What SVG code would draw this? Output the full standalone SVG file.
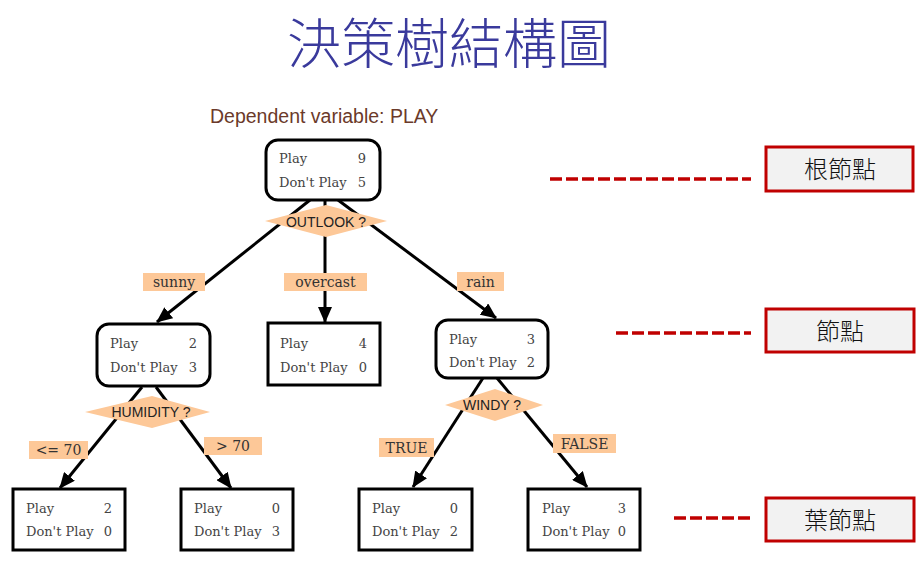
<svg xmlns="http://www.w3.org/2000/svg" width="921" height="564" viewBox="0 0 921 564">
<style>
.title{font-family:"Noto Sans CJK TC","Noto Sans CJK SC",sans-serif;font-size:54px;font-weight:300;fill:#3a3a9c;text-anchor:middle}
.dep{font-family:"Liberation Sans",Arial,sans-serif;font-size:19.5px;fill:#6b3a2a}
.nt{font-family:"DejaVu Serif",serif;font-size:13px;fill:#444}
.num{text-anchor:end}
.node{fill:#fff;stroke:#000;stroke-width:3}
.dia{fill:#fdc898}
.dt{font-family:"Liberation Sans",Arial,sans-serif;font-size:14px;fill:#222;text-anchor:middle}
.lb{fill:#fdc898}
.lt{font-family:"DejaVu Serif",serif;font-size:14px;fill:#333;text-anchor:middle}
.edge{stroke:#000;stroke-width:3;fill:none}
.dash{stroke:#c00000;stroke-width:3.5;stroke-dasharray:12 4;fill:none}
.leg{fill:#f2f2f2;stroke:#c00000;stroke-width:3}
.legt{font-family:"Noto Sans CJK TC","Noto Sans CJK SC",sans-serif;font-size:24px;font-weight:300;fill:#111;text-anchor:middle}
</style>
<defs>
<marker id="arr" markerUnits="userSpaceOnUse" markerWidth="16" markerHeight="14" refX="15" refY="7" orient="auto">
<path d="M0,0 L16,7 L0,14 Z" fill="#000"/>
</marker>
</defs>
<text class="title" x="449" y="64">決策樹結構圖</text>
<text class="dep" x="210" y="123">Dependent variable: PLAY</text>

<g id="connectors">
<line class="edge" x1="310" y1="200" x2="157" y2="322" marker-end="url(#arr)"/>
<line class="edge" x1="325" y1="200" x2="325" y2="322" marker-end="url(#arr)"/>
<line class="edge" x1="338" y1="200" x2="496" y2="318" marker-end="url(#arr)"/>
<line class="edge" x1="142" y1="387" x2="60" y2="488" marker-end="url(#arr)"/>
<line class="edge" x1="156" y1="387" x2="231" y2="488" marker-end="url(#arr)"/>
<line class="edge" x1="483" y1="378" x2="413" y2="487" marker-end="url(#arr)"/>
<line class="edge" x1="497" y1="378" x2="587" y2="487" marker-end="url(#arr)"/>
</g>

<g id="root">
<rect class="node" x="266" y="140" width="114" height="60" rx="12"/>
<text class="nt" x="279" y="163">Play</text><text class="nt num" x="366" y="163">9</text>
<text class="nt" x="279" y="187">Don't Play</text><text class="nt num" x="366" y="187">5</text>
</g>
<g id="outlook">
<polygon class="dia" points="265,221 326,205 387,221 326,237"/>
<text class="dt" x="326" y="227">OUTLOOK ?</text>
</g>

<g id="label-sunny"><rect class="lb" x="143" y="273" width="62" height="18"/><text class="lt" x="174" y="287">sunny</text></g>
<g id="label-overcast"><rect class="lb" x="284" y="273" width="83" height="18"/><text class="lt" x="325.5" y="287">overcast</text></g>
<g id="label-rain"><rect class="lb" x="457" y="272" width="47" height="19"/><text class="lt" x="480.5" y="287">rain</text></g>

<g id="sunny">
<rect class="node" x="97" y="324" width="113" height="62" rx="12"/>
<text class="nt" x="110" y="348">Play</text><text class="nt num" x="197" y="348">2</text>
<text class="nt" x="110" y="372">Don't Play</text><text class="nt num" x="197" y="372">3</text>
</g>
<g id="humidity">
<polygon class="dia" points="85,412 152,396 210,412 152,428"/>
<text class="dt" x="151" y="417">HUMIDITY ?</text>
</g>

<g id="overcast">
<rect class="node" x="268" y="323" width="112" height="62"/>
<text class="nt" x="280" y="348">Play</text><text class="nt num" x="367" y="348">4</text>
<text class="nt" x="280" y="372">Don't Play</text><text class="nt num" x="367" y="372">0</text>
</g>

<g id="rain">
<rect class="node" x="436" y="320" width="112" height="58" rx="12"/>
<text class="nt" x="449" y="344">Play</text><text class="nt num" x="535" y="344">3</text>
<text class="nt" x="449" y="367">Don't Play</text><text class="nt num" x="535" y="367">2</text>
</g>
<g id="windy">
<polygon class="dia" points="445,405 495,389 543,405 495,421"/>
<text class="dt" x="492" y="410">WINDY ?</text>
</g>

<g id="label-le70"><rect class="lb" x="29" y="441" width="59" height="18"/><text class="lt" x="58.5" y="455">&lt;= 70</text></g>
<g id="label-gt70"><rect class="lb" x="204" y="437" width="58" height="18"/><text class="lt" x="233" y="451">&gt; 70</text></g>
<g id="label-true"><rect class="lb" x="379" y="438" width="55" height="19"/><text class="lt" x="406.5" y="453">TRUE</text></g>
<g id="label-false"><rect class="lb" x="553" y="434" width="63" height="19"/><text class="lt" x="584.5" y="449">FALSE</text></g>

<g id="leaf1">
<rect class="node" x="13" y="489" width="112" height="61"/>
<text class="nt" x="26" y="513">Play</text><text class="nt num" x="112" y="513">2</text>
<text class="nt" x="26" y="536">Don't Play</text><text class="nt num" x="112" y="536">0</text>
</g>
<g id="leaf2">
<rect class="node" x="181" y="489" width="112" height="61"/>
<text class="nt" x="194" y="513">Play</text><text class="nt num" x="280" y="513">0</text>
<text class="nt" x="194" y="536">Don't Play</text><text class="nt num" x="280" y="536">3</text>
</g>
<g id="leaf3">
<rect class="node" x="359" y="489" width="113" height="61"/>
<text class="nt" x="372" y="513">Play</text><text class="nt num" x="458" y="513">0</text>
<text class="nt" x="372" y="536">Don't Play</text><text class="nt num" x="458" y="536">2</text>
</g>
<g id="leaf4">
<rect class="node" x="528" y="489" width="112" height="61"/>
<text class="nt" x="542" y="513">Play</text><text class="nt num" x="626" y="513">3</text>
<text class="nt" x="542" y="536">Don't Play</text><text class="nt num" x="626" y="536">0</text>
</g>

<g id="legend-root">
<line class="dash" x1="550" y1="179" x2="751" y2="179"/>
<rect class="leg" x="766" y="147" width="147" height="44"/>
<text class="legt" x="840" y="178">根節點</text>
</g>
<g id="legend-node">
<line class="dash" x1="616" y1="333" x2="751" y2="333"/>
<rect class="leg" x="766" y="309" width="148" height="43"/>
<text class="legt" x="840" y="340">節點</text>
</g>
<g id="legend-leaf">
<line class="dash" x1="674" y1="518" x2="751" y2="518"/>
<rect class="leg" x="766" y="498" width="148" height="43"/>
<text class="legt" x="840" y="529">葉節點</text>
</g>
</svg>
